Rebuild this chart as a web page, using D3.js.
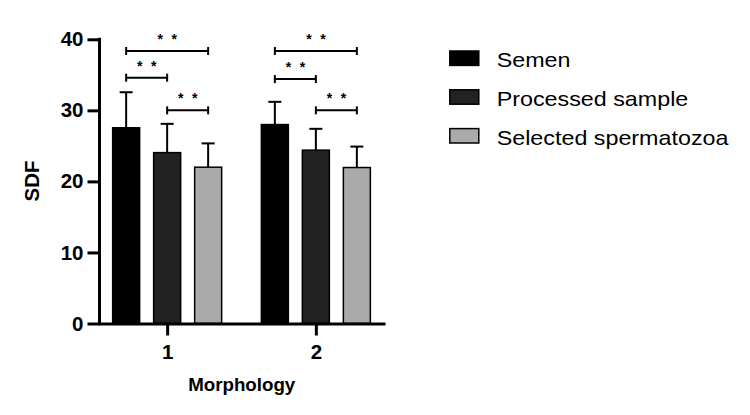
<!DOCTYPE html>
<html>
<head>
<meta charset="utf-8">
<script src="https://cdn.jsdelivr.net/npm/d3@7"></script>
<style>
  body { margin: 0; background: #fff; }
  svg { display: block; font-family: "Liberation Sans", Arial, Helvetica, sans-serif; }
</style>
</head>
<body>
<svg id="chart" width="750" height="415"></svg>
<script>
// ---- data ----
const categories = ["1", "2"];
const seriesNames = ["Semen", "Processed sample", "Selected spermatozoa"];
const seriesColors = ["#000000", "#222222", "#aaaaaa"];
const meanValues = [
  [27.55, 28.0],   // Semen
  [24.05, 24.4],   // Processed sample
  [22.0, 21.95]    // Selected spermatozoa
];
const errorTops = [
  [32.55, 31.2],
  [28.1, 27.4],
  [25.35, 24.9]
];
const yTicks = [0, 10, 20, 30, 40];
// significance brackets: [category, fromSeries, toSeries, yValue, stars]
const brackets = [
  ["1", 0, 2, 38.35, 2],
  ["1", 0, 1, 34.6, 2],
  ["1", 1, 2, 30.0, 2],
  ["2", 0, 2, 38.35, 2],
  ["2", 0, 1, 34.4, 2],
  ["2", 1, 2, 30.0, 2]
];
const xTitle = "Morphology";
const yTitle = "SDF";

// ---- layout ----
const svg = d3.select("#chart");
const x = d3.scalePoint().domain(categories).range([98, 385]).padding(0.465);
const xs = d3.scaleBand().domain(d3.range(seriesNames.length)).range([-61.5, 61.5])
  .paddingInner(14 / 41).paddingOuter(7 / 41);
const y = d3.scaleLinear().domain([0, 40]).range([323.5, 39.3]);

function stretch(sel, sx) {
  sel.each(function () {
    const t = d3.select(this);
    const tx = +t.attr("x") || 0, ty = +t.attr("y") || 0;
    t.attr("x", 0).attr("y", 0).attr("transform", `translate(${tx},${ty}) scale(${sx},1)`);
  });
}

// bars
const bars = [];
seriesNames.forEach((s, si) => categories.forEach((c, ci) => {
  bars.push({ si, c, v: meanValues[si][ci], e: errorTops[si][ci] });
}));

const gBars = svg.append("g");
gBars.selectAll("line.err").data(bars).join("line")
  .attr("x1", d => x(d.c) + xs(d.si) + xs.bandwidth() / 2)
  .attr("x2", d => x(d.c) + xs(d.si) + xs.bandwidth() / 2)
  .attr("y1", d => y(d.v)).attr("y2", d => y(d.e))
  .attr("stroke", "#000").attr("stroke-width", 2);
gBars.selectAll("line.cap").data(bars).join("line")
  .attr("x1", d => x(d.c) + xs(d.si) + xs.bandwidth() / 2 - 6.5)
  .attr("x2", d => x(d.c) + xs(d.si) + xs.bandwidth() / 2 + 6.5)
  .attr("y1", d => y(d.e)).attr("y2", d => y(d.e))
  .attr("stroke", "#000").attr("stroke-width", 2);
gBars.selectAll("rect").data(bars).join("rect")
  .attr("x", d => x(d.c) + xs(d.si))
  .attr("width", xs.bandwidth())
  .attr("y", d => y(d.v))
  .attr("height", d => y(0) - y(d.v))
  .attr("fill", d => seriesColors[d.si])
  .attr("stroke", "#000").attr("stroke-width", 1.5);

// brackets
const gBr = svg.append("g");
brackets.forEach(b => {
  const x1 = x(b[0]) + xs(b[1]) + xs.bandwidth() / 2;
  const x2 = x(b[0]) + xs(b[2]) + xs.bandwidth() / 2;
  const yy = y(b[3]);
  gBr.append("line").attr("x1", x1).attr("x2", x2).attr("y1", yy).attr("y2", yy)
    .attr("stroke", "#000").attr("stroke-width", 2);
  [x1, x2].forEach(xx => gBr.append("line").attr("x1", xx).attr("x2", xx)
    .attr("y1", yy - 4).attr("y2", yy + 4).attr("stroke", "#000").attr("stroke-width", 2));
  const mid = (x1 + x2) / 2;
  d3.range(b[4]).forEach(k => {
    gBr.append("text").attr("x", mid + (k - (b[4] - 1) / 2) * 14).attr("y", yy - 7)
      .attr("text-anchor", "middle").attr("font-size", 14).attr("font-weight", "bold")
      .text("*");
  });
});

// axes
const yAxis = svg.append("g").attr("transform", "translate(99.5,0)")
  .call(d3.axisLeft(y).tickValues(yTicks).tickSize(12).tickSizeOuter(0).tickPadding(4));
const xAxis = svg.append("g").attr("transform", "translate(0,323.5)")
  .call(d3.axisBottom(x).tickSize(12).tickSizeOuter(0).tickPadding(8.5));
[yAxis, xAxis].forEach(a => {
  a.select(".domain").attr("stroke", "#000").attr("stroke-width", 3);
  a.selectAll(".tick line").attr("stroke", "#000").attr("stroke-width", 3);
  a.selectAll(".tick text").attr("fill", "#000").attr("font-size", 20.5)
    .attr("font-weight", "bold").attr("font-family", "'Liberation Sans', Arial, sans-serif");
});
yAxis.select(".domain").attr("d", `M0,${y(40) - 1.5}V${y(0) + 1.5}`);
yAxis.selectAll(".tick line").attr("x2", -12).attr("x1", 0);

// titles
svg.append("text").attr("x", 241.7).attr("y", 391).attr("text-anchor", "middle")
  .attr("font-size", 18).attr("font-weight", "bold").text(xTitle).call(stretch, 1.04);
svg.append("text").attr("text-anchor", "middle").attr("font-size", 20.5).attr("font-weight", "bold")
  .attr("transform", `translate(39,181) rotate(-90)`).text(yTitle);

// legend
const leg = svg.append("g");
seriesNames.forEach((s, i) => {
  const cy = 58.2 + i * 38.8;
  leg.append("rect").attr("x", 449.8).attr("y", cy - 7.2).attr("width", 29).attr("height", 14.4)
    .attr("fill", seriesColors[i]).attr("stroke", "#000").attr("stroke-width", 1.5);
  leg.append("text").attr("x", 496.7).attr("y", cy + 9.2).attr("font-size", 20)
    .attr("fill", "#000").text(s).call(stretch, 1.165);
});
</script>
</body>
</html>
